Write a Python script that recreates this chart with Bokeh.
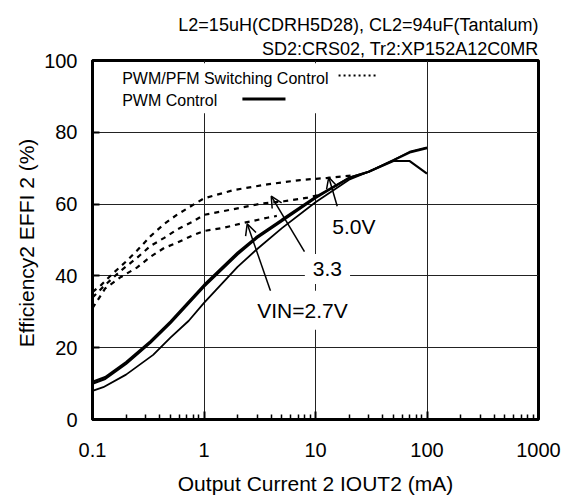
from bokeh.plotting import figure
from bokeh.models import (FixedTicker, Label, Arrow, OpenHead, BoxAnnotation, Title)
from bokeh.embed import file_html
from bokeh.resources import INLINE

# ---- data ----
# PWM control (solid lines)
iout_pwm = [0.1, 0.13, 0.2, 0.33, 0.5, 1, 2, 3, 5, 10, 20, 30, 50, 70, 100]
pwm_27 = [10.5, 11.8, 16.0, 21.8, 27.3, 37.5, 46.5, 51.0, 55.7, 62.0, 67.3, 69.0, 72.0, 72.0, 68.5]
pwm_33 = [10.0, 11.3, 15.5, 21.3, 26.8, 37.0, 46.0, 50.6, 55.3, 61.7, 67.3, 69.0, 72.2, 74.4, 75.6]
iout_pwm50 = [0.1, 0.125, 0.2, 0.35, 0.5, 0.73, 1, 2, 3, 5, 10, 20, 30, 50, 70, 100]
pwm_50 = [8.0, 9.0, 12.5, 18.0, 22.8, 27.5, 32.5, 42.5, 47.5, 53.3, 60.5, 66.8, 69.0, 72.3, 74.6, 75.8]

# PWM/PFM switching control (dashed lines)
iout_pfm50 = [0.1, 0.12, 0.15, 0.2, 0.25, 0.33, 0.44, 0.57, 0.78, 1, 1.84, 3.7, 7.3, 12.8, 22]
pfm_50 = [35.5, 37.5, 40.5, 44.0, 47.0, 51.0, 54.5, 57.0, 59.6, 61.6, 63.9, 65.5, 66.7, 67.3, 68.0]
iout_pfm33 = [0.1, 0.13, 0.18, 0.25, 0.33, 0.44, 0.58, 0.78, 1, 1.84, 3.2, 5.2, 8.5, 11]
pfm_33 = [34.0, 37.5, 41.5, 45.0, 48.3, 50.6, 53.0, 55.0, 57.0, 58.6, 60.1, 60.8, 61.8, 62.6]
iout_pfm27 = [0.1, 0.13, 0.18, 0.25, 0.33, 0.44, 0.58, 0.78, 1, 1.5, 2.3, 3.7, 4.5]
pfm_27 = [31.0, 36.5, 39.7, 42.3, 45.3, 47.8, 49.3, 51.2, 52.5, 53.4, 54.8, 56.2, 56.7]

x_ticks = [0.1, 1, 10, 100, 1000]
x_tick_labels = ["0.1", "1", "10", "100", "1000"]
y_ticks = [0, 20, 40, 60, 80, 100]

title_lines = ["L2=15uH(CDRH5D28), CL2=94uF(Tantalum)", "SD2:CRS02, Tr2:XP152A12C0MR"]
legend_labels = ["PWM/PFM Switching Control", "PWM  Control"]

FONT = "Liberation Sans"

p = figure(width=563, height=497, x_axis_type="log", x_range=(0.1, 1000), y_range=(0, 100),
           output_backend="svg", toolbar_location=None,
           min_border_left=92, min_border_right=25, min_border_top=60, min_border_bottom=78)
p.background_fill_color = "white"
p.border_fill_color = "white"
p.outline_line_color = "black"
p.outline_line_width = 3

minor = [m * 10.0 ** e for e in range(-1, 3) for m in range(2, 10)]
p.xaxis.ticker = FixedTicker(ticks=x_ticks, minor_ticks=minor)
p.xaxis.major_label_overrides = {t: s for t, s in zip(x_ticks, x_tick_labels)}
p.yaxis.ticker = FixedTicker(ticks=y_ticks)
p.yaxis.minor_tick_line_color = None

for ax in (p.xaxis[0], p.yaxis[0]):
    ax.axis_line_width = 3
    ax.axis_line_color = "black"
    ax.major_tick_out = 0
    ax.minor_tick_out = 0
    ax.major_tick_line_color = "black"
    ax.major_tick_line_width = 2
    ax.major_label_text_font = FONT
    ax.major_label_text_font_size = "20px"
    ax.major_label_text_color = "black"
    ax.axis_label_text_font = FONT
    ax.axis_label_text_font_size = "21px"
    ax.axis_label_text_font_style = "normal"
    ax.axis_label_text_color = "black"

p.xaxis.major_tick_in = 8
p.xaxis.minor_tick_in = 5
p.xaxis.minor_tick_line_color = "black"
p.xaxis.minor_tick_line_width = 1.5
p.xaxis.major_label_standoff = 23
p.xaxis.axis_label_standoff = 12
p.xaxis.axis_label = "Output Current 2 IOUT2 (mA)"

p.yaxis.major_tick_in = 7
p.yaxis.major_label_standoff = 15
p.yaxis.axis_label_standoff = 3
p.yaxis.axis_label = "Efficiency2  EFFI 2 (%)"

p.xgrid.grid_line_color = "#222222"
p.ygrid.grid_line_color = "#222222"
p.xgrid.grid_line_width = 1
p.ygrid.grid_line_width = 1

# title lines, right aligned to the frame (first added sits nearest the frame)
for txt, so in ((title_lines[1], 4), (title_lines[0], 0)):
    p.add_layout(Title(text=txt, align="right", text_font=FONT, text_font_size="18px",
                       text_font_style="normal", text_color="black", standoff=so), "above")

# curves
dash = "5 5"
p.line(iout_pfm27, pfm_27, line_color="black", line_width=2.2, line_dash=dash)
p.line(iout_pfm33, pfm_33, line_color="black", line_width=2.2, line_dash=dash)
p.line(iout_pfm50, pfm_50, line_color="black", line_width=2.2, line_dash=dash)
p.line(iout_pwm50, pwm_50, line_color="black", line_width=1.8)
p.line(iout_pwm, pwm_33, line_color="black", line_width=2.2)
p.line(iout_pwm, pwm_27, line_color="black", line_width=2.2)

# legend background box
p.add_layout(BoxAnnotation(left=0.104, right=47, bottom=85.3, top=99.2,
                           fill_color="white", fill_alpha=1, line_color=None))

# legend samples (segments drawn after the texts)
p.add_layout(Arrow(start=None, end=None, x_start=16.1, y_start=95.8, x_end=36.0, y_end=95.8,
                   line_color="black", line_width=2, line_dash="2 3"))
p.add_layout(Arrow(start=None, end=None, x_start=2.21, y_start=89.25, x_end=5.38, y_end=89.25,
                   line_color="black", line_width=3))

p.add_layout(Label(x=0.1846, y=95.0, text=legend_labels[0], text_font=FONT, text_color="black",
                   text_font_size="16px", text_align="left", text_baseline="middle"))
p.add_layout(Label(x=0.1846, y=88.9, text=legend_labels[1], text_font=FONT, text_color="black",
                   text_font_size="16px", text_align="left", text_baseline="middle"))

# arrows
for xs, ys, xe, ye in ((15.66, 59.4, 13.15, 67.5),
                       (7.96, 46.75, 4.01, 62.2),
                       (3.95, 35.8, 2.44, 54.5)):
    p.add_layout(Arrow(end=OpenHead(size=11, line_width=1.5, line_color="black"),
                       x_start=xs, y_start=ys, x_end=xe, y_end=ye,
                       line_width=1.5, line_color="black"))

# voltage labels
p.add_layout(Label(x=22.1, y=53.75, text="5.0V", text_font=FONT, text_font_size="21px",
                   text_color="black", text_align="center", text_baseline="middle"))
p.add_layout(Label(x=12.8, y=41.9, text="3.3", text_font=FONT, text_font_size="21px",
                   text_color="black", text_align="center", text_baseline="middle",
                   background_fill_color="white", padding=8))
p.add_layout(Label(x=7.64, y=30.4, text="VIN=2.7V", text_font=FONT, text_font_size="21px",
                   text_color="black", text_align="center", text_baseline="middle",
                   background_fill_color="white", padding=8))

open("out.html", "w").write(file_html(p, INLINE))
